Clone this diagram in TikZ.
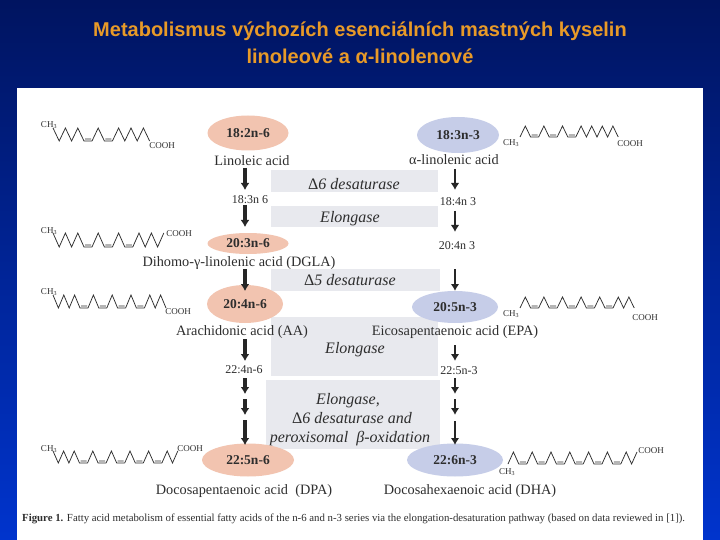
\documentclass[tikz,border=0pt]{standalone}
\usepackage{fontspec}
\setmainfont{Liberation Serif}
\newfontfamily\titlefont{Liberation Sans}
\usetikzlibrary{arrows.meta,shapes.geometric}
\definecolor{ink}{HTML}{2E2E2E}
\definecolor{salmon}{HTML}{F2C4B0}
\definecolor{lav}{HTML}{C6CDE8}
\definecolor{pale}{HTML}{E8E9EE}
\definecolor{ttl}{HTML}{E89A28}
\newcommand{\sz}[1]{\fontsize{#1}{#1}\selectfont}
% chain steps
\newcommand{\U}{-- ++(\cs,-\ch)}
\newcommand{\D}{-- ++(\cs,\ch)}
\newcommand{\F}{-- ++(8,0) ++(-7,-2) -- ++(6,0) ++(1,2)}
\tikzset{
  x=1pt,y=-1pt,
  pill/.style={ellipse,inner sep=0pt,text=ink,font=\bfseries\sz{13.5}},
  nameb/.style={inner sep=0pt,text=ink,font=\sz{14.3}},
  small/.style={inner sep=0pt,text=ink,font=\sz{12}},
  tiny/.style={inner sep=0pt,text=ink,font=\sz{9}},
  enz/.style={inner sep=0pt,text=ink,font=\itshape\sz{16}},
  band/.style={fill=pale,draw=none},
  arrL/.style={draw=black!85,line width=3.2pt,-{Latex[length=7pt,width=9pt]}},
  arrR/.style={draw=black!85,line width=2.4pt,-{Latex[length=7pt,width=8.5pt]}},
  chainl/.style={draw=ink,line width=0.75pt,line join=miter},
}
\begin{document}
\begin{tikzpicture}
\useasboundingbox (0,0) rectangle (720,540);
\shade[top color={rgb,255:red,0;green,20;blue,96},bottom color={rgb,255:red,0;green,52;blue,205}] (0,0) rectangle (720,540);
\fill[white] (17,88) rectangle (703,540);

% title
\node[inner sep=0pt,text=ttl,font=\titlefont\bfseries\sz{20}] (t1) at (360,31) {Metabolismus výchozích esenciálních mastných kyselin};
\node[inner sep=0pt,text=ttl,font=\titlefont\bfseries\sz{20}] (t2) at (360,56) {linoleové a α-linolenové};

% enzyme bands
\fill[band] (271,170) rectangle (438,192);
\fill[band] (271,206) rectangle (438,227);
\fill[band] (271,269) rectangle (440,291);
\fill[band] (271,317) rectangle (438,376);
\fill[band] (266,380) rectangle (440,449);
\node[enz] (e1) at (354,184) {{\upshape Δ}6 desaturase};
\node[enz] (e2) at (350,219) {Elongase};
\node[enz] (e3) at (350,280) {{\upshape Δ}5 desaturase};
\node[enz] (e4) at (355,350) {Elongase};
\node[enz,anchor=base] (e5) at (348,404) {Elongase,};
\node[enz,anchor=base] (e6) at (352,423) {{\upshape Δ}6 desaturase and};
\node[enz,anchor=base] (e7) at (350,442) {peroxisomal\ \ β-oxidation};

% fatty acid pills
\node[pill,fill=salmon,minimum width=81pt,minimum height=35pt] (a) at (248,133) {18:2n-6};
\node[pill,fill=salmon,minimum width=81pt,minimum height=21pt] (b) at (248,243.5) {20:3n-6};
\node[pill,fill=salmon,minimum width=76pt,minimum height=38pt] (c) at (245,304) {20:4n-6};
\node[pill,fill=salmon,minimum width=92pt,minimum height=33pt] (d) at (248,460) {22:5n-6};
\node[pill,fill=lav,minimum width=82pt,minimum height=36pt] (p) at (458,135) {18:3n-3};
\node[pill,fill=lav,minimum width=86pt,minimum height=32pt] (q) at (455,307) {20:5n-3};
\node[pill,fill=lav,minimum width=96pt,minimum height=33pt] (r) at (455,460) {22:6n-3};

% names
\node[nameb] (la) at (252,160.5) {Linoleic acid};
\node[nameb] (ala) at (454,159.5) {α-linolenic acid};
\node[nameb] (dgla) at (239,263.5) {Dihomo-γ-linolenic acid (DGLA)};
\node[nameb] (aa) at (242,332) {Arachidonic acid (AA)};
\node[nameb] (epa) at (455,332.5) {Eicosapentaenoic acid (EPA)};
\node[nameb] (dpa) at (244,491.5) {Docosapentaenoic acid\ \ (DPA)};
\node[nameb] (dha) at (470,491.5) {Docosahexaenoic acid (DHA)};

% intermediates
\node[small] (i1) at (250,200) {18:3n 6};
\node[small] (i2) at (244,370) {22:4n-6};
\node[small] (j1) at (458,202) {18:4n 3};
\node[small] (j2) at (457,246) {20:4n 3};
\node[small] (j3) at (459,371) {22:5n-3};

% arrow ends
\coordinate (A1s) at (245,168); \coordinate (A1e) at (245,190);
\coordinate (A2s) at (245,205); \coordinate (A2e) at (245,227);
\coordinate (A3s) at (245,269); \coordinate (A3e) at (245,291);
\coordinate (A4s) at (245,339); \coordinate (A4e) at (245,361);
\coordinate (A5s) at (245,378); \coordinate (A5e) at (245,394);
\coordinate (A6s) at (245,399); \coordinate (A6e) at (245,415);
\coordinate (A7s) at (245,420); \coordinate (A7e) at (245,445);
\coordinate (B1s) at (455,169); \coordinate (B1e) at (455,190);
\coordinate (B2s) at (455,211); \coordinate (B2e) at (455,232);
\coordinate (B3s) at (455,269); \coordinate (B3e) at (455,291);
\coordinate (B4s) at (455,345); \coordinate (B4e) at (455,361);
\coordinate (B5s) at (455,378); \coordinate (B5e) at (455,394);
\coordinate (B6s) at (455,399); \coordinate (B6e) at (455,415);
\coordinate (B7s) at (455,421); \coordinate (B7e) at (455,445);
\foreach \n in {A1,A2,A3,A4,A5,A6,A7}{\draw[arrL] (\n s) -- (\n e);}
\draw[arrR,line width=1.3pt] (B1s) -- (B1e);
\foreach \n in {B2,B3,B4,B5,B6,B7}{\draw[arrR] (\n s) -- (\n e);}

% chains
\def\cs{6.2}\def\ch{13}
\draw[chainl] (53,128) \D\U\D\U\D\F\U\D\F\U\D\U\D\U\D;
\def\cs{6.2}\def\ch{14}
\draw[chainl] (53,233) \D\U\D\U\D\F\U\D\F\U\D\F\U\D\U\D\U;
\def\cs{5.4}\def\ch{13}
\draw[chainl] (53,295) \D\U\D\U\D\F\U\D\F\U\D\F\U\D\F\U\D\U\D;
\def\cs{5.3}\def\ch{12}
\draw[chainl] (53,451) \D\U\D\U\D\F\U\D\F\U\D\F\U\D\F\U\D\F\U\D\U;
\def\cs{5.3}\def\ch{11}
\draw[chainl] (520,137) \U\D\F\U\D\F\U\D\F\U\D\U\D\U\D\U\D;
\draw[chainl] (520,308) \U\D\F\U\D\F\U\D\F\U\D\F\U\D\F\U\D\U\D;
\def\cs{5.4}\def\ch{12}
\draw[chainl] (508,464) \U\D\F\U\D\F\U\D\F\U\D\F\U\D\F\U\D\F\U\D\U;

% chain labels
\node[tiny] (m1) at (49,125) {CH\textsubscript{3}};
\node[tiny] (m2) at (49,231) {CH\textsubscript{3}};
\node[tiny] (m3) at (49,292) {CH\textsubscript{3}};
\node[tiny] (m4) at (49,449) {CH\textsubscript{3}};
\node[tiny] (m5) at (511,143) {CH\textsubscript{3}};
\node[tiny] (m6) at (511,314) {CH\textsubscript{3}};
\node[tiny] (m7) at (507,472) {CH\textsubscript{3}};
\node[tiny] (k1) at (162,146) {COOH};
\node[tiny] (k2) at (179,234) {COOH};
\node[tiny] (k3) at (178,312) {COOH};
\node[tiny] (k4) at (190,449) {COOH};
\node[tiny] (k5) at (630,144) {COOH};
\node[tiny] (k6) at (645,318) {COOH};
\node[tiny] (k7) at (651,451) {COOH};

% caption
\node[inner sep=0pt,anchor=west,text=ink,font=\sz{10.8}] (cap) at (22,519) {\textbf{Figure 1.} Fatty acid metabolism of essential fatty acids of the n-6 and n-3 series via the elongation-desaturation pathway (based on data reviewed in [1]).};
\end{tikzpicture}
\end{document}
